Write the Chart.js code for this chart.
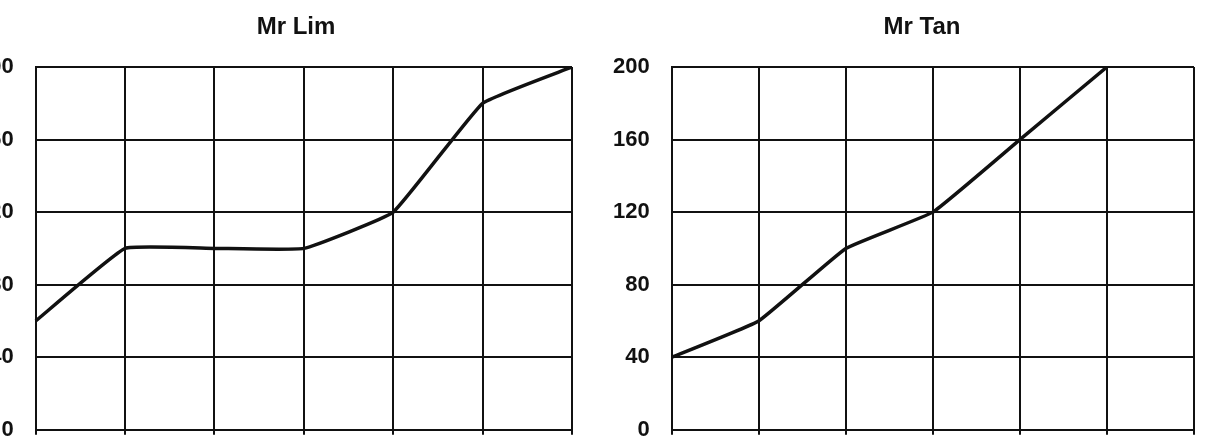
<!DOCTYPE html>
<html>
<head>
<meta charset="utf-8">
<script src="https://cdn.jsdelivr.net/npm/chart.js@4"></script>
<style>
  html, body { margin: 0; padding: 0; background: #fff; overflow: hidden; }
  body { width: 1211px; height: 440px; position: relative; overflow: hidden; }
  .box { position: absolute; top: 0; height: 465px; }
  .title {
    position: absolute; top: 12px; width: 300px;
    text-align: center; font: bold 24px "Liberation Sans", Arial, sans-serif; color: #111;
  }
  #limBox { left: -45px; width: 620px; }
  #tanBox { left: 591px; width: 606px; }
  #limTitle { left: 146px; }
  #tanTitle { left: 772px; }
</style>
</head>
<body>
<div class="box" id="limBox"><canvas id="lim"></canvas></div>
<div class="box" id="tanBox"><canvas id="tan"></canvas></div>
<div class="title" id="limTitle">Mr Lim</div>
<div class="title" id="tanTitle">Mr Tan</div>
<script>
// x positions (unlabelled in the picture)
const points = ["1", "2", "3", "4", "5", "6", "7"];

const limValues = [60, 100, 100, 100, 120, 180, 200];
const tanValues = [40, 60, 100, 120, 160, 200, null];

const yTicks = [0, 40, 80, 120, 160, 200];

const INK = "#111";

function makeChart(ctx, values) {
  return new Chart(ctx, {
    type: "line",
    data: {
      labels: points,
      datasets: [{
        data: values,
        borderColor: INK,
        borderWidth: 3.5,
        pointRadius: 0,
        tension: 0.1,
        fill: false,
      }],
    },
    options: {
      responsive: true,
      maintainAspectRatio: false,
      animation: false,
      layout: { padding: { top: 67, bottom: 5, right: 3 } },
      plugins: { legend: { display: false }, tooltip: { enabled: false } },
      scales: {
        x: {
          offset: false,
          grid: { color: INK, lineWidth: 2, tickLength: 5, tickColor: INK },
          border: { color: INK, width: 2 },
          ticks: { display: false },
        },
        y: {
          min: yTicks[0],
          max: yTicks[yTicks.length - 1],
          afterBuildTicks: (axis) => { axis.ticks = yTicks.map((v) => ({ value: v })); },
          grid: { color: INK, lineWidth: 2, drawTicks: false },
          border: { color: INK, width: 2 },
          ticks: {
            color: INK,
            padding: 22,
            font: { family: "'Liberation Sans', Arial, sans-serif", size: 22, weight: "bold" },
          },
        },
      },
    },
  });
}

makeChart(document.getElementById("lim"), limValues);
makeChart(document.getElementById("tan"), tanValues);
</script>
</body>
</html>
